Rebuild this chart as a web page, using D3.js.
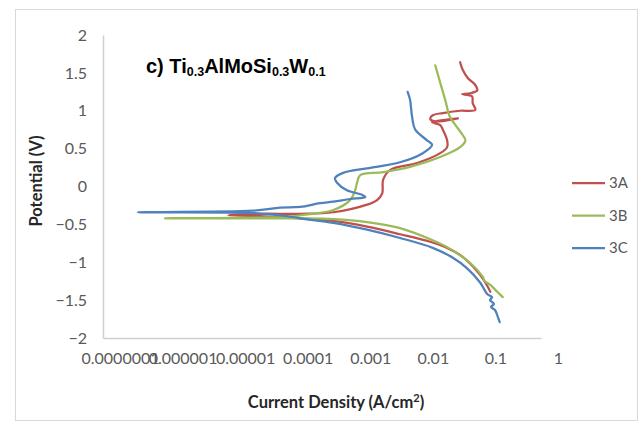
<!DOCTYPE html>
<html>
<head>
<meta charset="utf-8">
<script src="https://cdn.jsdelivr.net/npm/d3@7"></script>
<style>
  body { margin: 0; background: #fff; }
</style>
</head>
<body>
<div id="chart"></div>
<script>
// Polarisation curves, [current density A/cm2, potential V]
var series3A = [
	[0.155, -1.39], [0.138, -1.31], [0.107, -1.17], [0.056, -0.93], [0.0316, -0.81],
	[0.0170, -0.73], [0.0056, -0.63], [0.00166, -0.53], [0.00048, -0.455], [0.000141, -0.42],
	[3.2e-5, -0.39], [1.0e-5, -0.38], [3.2e-5, -0.36], [0.000141, -0.36], [0.00048, -0.34],
	[0.00166, -0.24], [0.0024, -0.18], [0.0029, -0.09], [0.0030, 0.09], [0.0039, 0.22],
	[0.0105, 0.31], [0.0245, 0.44], [0.0316, 0.52], [0.0316, 0.61], [0.027, 0.75],
	[0.0245, 0.81], [0.0182, 0.85], [0.047, 0.90], [0.0204, 0.86], [0.017, 0.89],
	[0.0186, 0.94], [0.027, 0.97], [0.051, 1.00], [0.089, 1.01], [0.081, 1.10],
	[0.079, 1.19], [0.055, 1.22], [0.074, 1.23], [0.096, 1.27], [0.089, 1.34],
	[0.068, 1.43], [0.056, 1.54], [0.051, 1.64]
];
var series3B = [
	[0.245, -1.46], [0.200, -1.39], [0.155, -1.30], [0.127, -1.25], [0.117, -1.19],
	[0.074, -1.01], [0.0316, -0.80], [0.0186, -0.71], [0.0056, -0.55], [0.00166, -0.47],
	[0.00048, -0.43], [0.000141, -0.42], [9.8e-7, -0.42], [8.7e-5, -0.40], [0.000141, -0.38],
	[0.00048, -0.31], [0.00089, -0.18], [0.00107, -0.05], [0.00115, 0.05], [0.00129, 0.15],
	[0.0030, 0.19], [0.0081, 0.26], [0.0245, 0.39], [0.051, 0.52], [0.062, 0.61],
	[0.056, 0.68], [0.043, 0.81], [0.035, 0.92], [0.0295, 1.14], [0.0245, 1.37],
	[0.0204, 1.60]
];
var series3C = [
	[0.219, -1.79], [0.204, -1.72], [0.184, -1.63], [0.159, -1.59], [0.177, -1.55],
	[0.153, -1.50], [0.165, -1.46], [0.138, -1.42], [0.107, -1.27], [0.066, -1.08],
	[0.039, -0.94], [0.0186, -0.81], [0.0056, -0.68], [0.00166, -0.57], [0.00048, -0.48],
	[0.000141, -0.42], [8.7e-5, -0.39], [2.5e-5, -0.35], [3.6e-7, -0.34], [2.5e-5, -0.32],
	[6.8e-5, -0.28], [0.000141, -0.27], [0.000295, -0.22], [0.00048, -0.20], [0.00089, -0.165],
	[0.00155, -0.14], [0.00138, -0.11], [0.00079, -0.05], [0.00055, 0.05], [0.00051, 0.11],
	[0.00069, 0.18], [0.00166, 0.24], [0.0056, 0.32], [0.0129, 0.44], [0.0182, 0.55],
	[0.0151, 0.61], [0.0098, 0.75], [0.0087, 0.92], [0.0081, 1.14], [0.0074, 1.25]
];

var seriesNames = ["3A", "3B", "3C"];
var seriesColors = ["#C0504D", "#9BBB59", "#4F81BD"];
var xTicks = [1e-7, 1e-6, 1e-5, 1e-4, 1e-3, 1e-2, 1e-1, 1];
var xTickLabels = ["0.0000001", "0.000001", "0.00001", "0.0001", "0.001", "0.01", "0.1", "1"];
var yTicks = [-2, -1.5, -1, -0.5, 0, 0.5, 1, 1.5, 2];

var width = 643, height = 423;
var plot = { left: 103, right: 541, top: 35, bottom: 338 };
var labelFont = "Lato, 'Liberation Sans', sans-serif";

var svg = d3.select("#chart").append("svg")
	.attr("width", width)
	.attr("height", height);

// outer chart frame
svg.append("rect")
	.attr("x", 15.5).attr("y", 9.5)
	.attr("width", 622).attr("height", 411)
	.attr("fill", "#fff")
	.attr("stroke", "#d9d9d9");

var x = d3.scaleLog().domain([1e-7, 1]).range([plot.left, plot.right]);
var y = d3.scaleLinear().domain([-2, 2]).range([plot.bottom, plot.top]);

// y axis
var yAxis = svg.append("g")
	.attr("transform", "translate(" + plot.left + ",0)")
	.call(d3.axisLeft(y).tickValues(yTicks).tickSize(0).tickPadding(16)
		.tickFormat(function (d) { return d3.format("")(d); }));
yAxis.select(".domain").attr("stroke", "#d0d0d0").attr("stroke-width", 1.5);
yAxis.selectAll("text")
	.attr("font-family", labelFont)
	.attr("font-size", "16px")
	.attr("fill", "#595959");

// x axis, labels sit a bit to the right like in the original (they overlap there too)
var xAxis = svg.append("g")
	.attr("transform", "translate(0," + plot.bottom + ")")
	.call(d3.axisBottom(x).tickValues(xTicks).tickSize(0).tickPadding(15)
		.tickFormat(function (d, i) { return xTickLabels[i]; }));
xAxis.select(".domain").attr("stroke", "#d0d0d0").attr("stroke-width", 1.5);
xAxis.selectAll("text")
	.attr("dx", 17)
	.attr("font-family", labelFont)
	.attr("font-size", "16px")
	.attr("fill", "#595959");

// curves
var line = d3.line()
	.curve(d3.curveCatmullRom.alpha(0.5))
	.x(function (d) { return x(d[0]); })
	.y(function (d) { return y(d[1]); });

[series3A, series3B, series3C].forEach(function (s, i) {
	svg.append("path")
		.datum(s)
		.attr("d", line)
		.attr("fill", "none")
		.attr("stroke", seriesColors[i])
		.attr("stroke-width", 2.25)
		.attr("stroke-linejoin", "round")
		.attr("stroke-linecap", "round");
});

// legend
var legend = svg.append("g").attr("transform", "translate(572,183)");
seriesNames.forEach(function (name, i) {
	var g = legend.append("g").attr("transform", "translate(0," + (i * 32.5) + ")");
	g.append("line")
		.attr("x1", 0).attr("x2", 33)
		.attr("stroke", seriesColors[i])
		.attr("stroke-width", 2.25);
	g.append("text")
		.attr("x", 37).attr("dy", "0.35em")
		.attr("font-family", labelFont)
		.attr("font-size", "15px")
		.attr("fill", "#595959")
		.text(name);
});

// axis titles
svg.append("text")
	.attr("transform", "translate(42,181) rotate(-90)")
	.attr("text-anchor", "middle")
	.attr("font-family", labelFont)
	.attr("font-size", "16.5px")
	.attr("font-weight", "bold")
	.attr("fill", "#262626")
	.text("Potential (V)");

var xt = svg.append("text")
	.attr("x", 336).attr("y", 408)
	.attr("text-anchor", "middle")
	.attr("font-family", labelFont)
	.attr("font-size", "16.5px")
	.attr("font-weight", "bold")
	.attr("fill", "#262626");
xt.append("tspan").text("Current Density (A/cm");
xt.append("tspan").attr("font-size", "11px").attr("dy", -6).text("2");
xt.append("tspan").attr("dy", 6).text(")");

// chart title with subscripts
var title = svg.append("text")
	.attr("x", 146).attr("y", 73)
	.attr("font-family", "'Liberation Sans', Arial, sans-serif")
	.attr("font-size", "20px")
	.attr("font-weight", "bold")
	.attr("fill", "#000");
var parts = [["c) Ti", false], ["0.3", true], ["AlMoSi", false], ["0.3", true], ["W", false], ["0.1", true]];
parts.forEach(function (p, i) {
	var t = title.append("tspan").text(p[0]);
	if (p[1]) {
		t.attr("font-size", "12.5px").attr("dy", 3);
	} else if (i > 0) {
		t.attr("dy", -3);
	}
});
</script>
</body>
</html>
